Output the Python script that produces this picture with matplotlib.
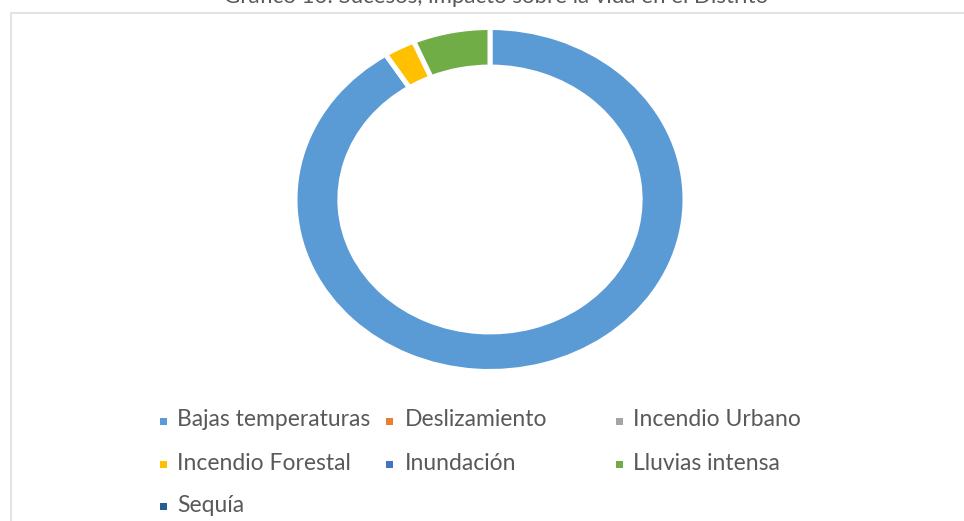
import matplotlib
matplotlib.use("Agg")
import matplotlib.pyplot as plt
from matplotlib.patches import Rectangle

# Data
categories = ["Bajas temperaturas", "Deslizamiento", "Incendio Urbano",
              "Incendio Forestal", "Inundación", "Lluvias intensa", "Sequía"]
values = [91.0, 0.0, 0.0, 2.6, 0.0, 6.4, 0.0]
colors = ["#5B9BD5", "#ED7D31", "#A5A5A5", "#FFC000", "#4472C4", "#70AD47", "#255E91"]
title = "Gráfico 10: Sucesos, impacto sobre la vida en el Distrito"

text_color = "#595959"
font = ["Lato", "DejaVu Sans"]

W, H = 964, 521
fig = plt.figure(figsize=(W / 100, H / 100), dpi=100)

# Chart area border (runs off the right and bottom edges)
fig.add_artist(Rectangle((11 / W, -0.1), 1.2, (H - 13) / H + 0.1,
                         transform=fig.transFigure, fill=False,
                         edgecolor="#E3E3E3", linewidth=1.5))

# Title, partially cut at the top edge
fig.text(496 / W, 1 + 3 / H, title, ha="center", va="center",
         fontsize=16, color=text_color, family=font)

# Doughnut (stretched horizontally)
cx, cy, rx, ry = 490, 199.5, 195, 172
ax = fig.add_axes([(cx - rx) / W, (H - cy - ry) / H, 2 * rx / W, 2 * ry / H])
draw = [(v, c) for v, c in zip(values, colors) if v > 0]
ax.pie([v for v, _ in draw], colors=[c for _, c in draw], startangle=90,
       counterclock=False, radius=1,
       wedgeprops=dict(width=0.23, edgecolor="white", linewidth=3.6))
ax.set_aspect("auto")
ax.set_xlim(-1, 1)
ax.set_ylim(-1, 1)
ax.axis("off")

# Legend, three columns
marker_x = [163, 389, 619]
text_x = [177, 405, 633]
row_y = [420, 463, 505]
for i, (name, col) in enumerate(zip(categories, colors)):
    r, c = divmod(i, 3)
    y = row_y[r]
    fig.add_artist(Rectangle(((marker_x[c] - 3.5) / W, (H - y - 4.5) / H), 7 / W, 7 / H,
                             transform=fig.transFigure, facecolor=col,
                             edgecolor="none"))
    fig.text(text_x[c] / W, (H - y) / H, name, ha="left", va="center",
             fontsize=16.5, color=text_color, family=font)

fig.savefig("out.png", dpi=100)
